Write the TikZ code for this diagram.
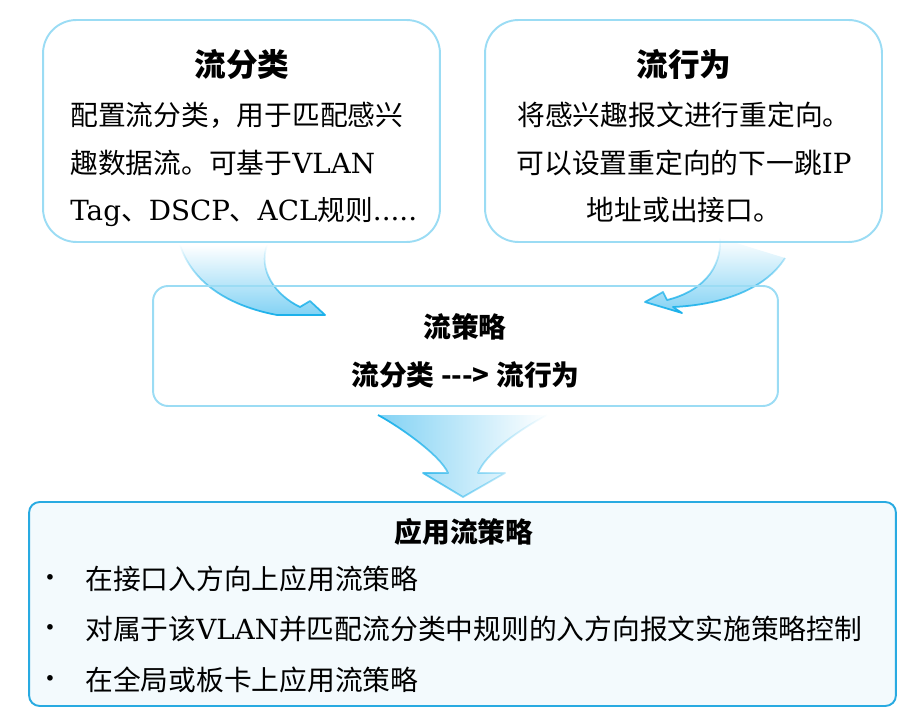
\documentclass[tikz,border=0pt]{standalone}
\usepackage{fontspec}
\setmainfont{DejaVu Serif}
\newfontfamily\cjk{Noto Sans CJK SC}
\usetikzlibrary{positioning,fadings}
\definecolor{pbLine}{RGB}{155,220,244}
\definecolor{pbDeep}{RGB}{40,170,225}
\definecolor{pbPale}{RGB}{243,250,253}
\definecolor{pbArrow}{RGB}{130,210,244}
\definecolor{pbEdge}{RGB}{25,176,234}
\newcommand{\latin}[1]{{\rmfamily #1}}

\begin{document}
\begin{tikzpicture}[x=0.02cm, y=-0.02cm,
  classbox/.style={draw=pbLine, line width=1.1pt, rounded corners=19pt, minimum width=7.94cm, minimum height=4.44cm},
  policybox/.style={draw=pbLine, line width=1.1pt, rounded corners=8.5pt, minimum width=12.5cm, minimum height=2.4cm},
  applybox/.style={draw=pbDeep, fill=pbPale, line width=1.1pt, rounded corners=6pt, minimum width=17.34cm, minimum height=4.08cm},
  bigtitle/.style={font=\cjk\bfseries\fontsize{18}{18}\selectfont, anchor=base, inner sep=0pt},
  heading/.style={font=\cjk\bfseries\fontsize{15.8}{16}\selectfont, anchor=base, inner sep=0pt},
  body/.style={font=\cjk\fontsize{15.8}{16}\selectfont, anchor=base, inner sep=0pt},
  bullet/.style={font=\rmfamily\fontsize{11}{11}\selectfont, anchor=base, inner sep=0pt},
  blockfill/.style={fill=pbArrow},
  blockedge/.style={draw=pbEdge, line width=1pt, line join=round}]
  \useasboundingbox (0,0) rectangle (913,719);

  % Curved arrows into the policy
  \fill[blockfill, path fading=north] (180,245) .. controls (195,290) and (240,308) .. (277,315) -- (325,315) -- (310,301) -- (300,307) .. controls (275,295) and (258,270) .. (267,245) -- cycle;
  \draw[blockedge, path fading=north] (267,245) .. controls (258,270) and (275,295) .. (300,307) -- (310,301) -- (325,315) -- (277,315) .. controls (240,308) and (195,290) .. (180,245);

  \fill[blockfill, path fading=north] (720,238) .. controls (722,270) and (700,292) .. (667,300) -- (663,292) -- (645,302) -- (682,313) -- (673,307) .. controls (720,305) and (765,290) .. (785,258) -- cycle;
  \draw[blockedge, path fading=north] (720,238) .. controls (722,270) and (700,292) .. (667,300) -- (663,292) -- (645,302) -- (682,313) -- (673,307) .. controls (720,305) and (765,290) .. (785,258);

  % Down arrow to the application
  \fill[blockfill, path fading=east] (378,415) .. controls (400,427) and (440,455) .. (448,473) -- (423,473) -- (463,497) -- (505,473) -- (478,473) .. controls (485,455) and (515,432) .. (547,415) -- cycle;
  \draw[blockedge, path fading=east] (378,415) .. controls (400,427) and (440,455) .. (448,473) -- (423,473) -- (463,497) -- (505,473) -- (478,473) .. controls (485,455) and (515,432) .. (547,415);

  % Flow classifier
  \node[classbox] (classifier) at (241.5,131) {};
  \node[bigtitle] (classTitle) at (242,77) {流分类};
  \node[body, anchor=base west] (classA) at (70,126) {配置流分类，用于匹配感兴};
  \node[body, anchor=base west] (classB) at (70,173.5) {趣数据流。可基于\latin{VLAN}};
  \node[body, anchor=base west] (classC) at (70,220.5) {\latin{Tag}、\latin{DSCP}、\latin{ACL}规则\latin{.....}};

  % Flow behavior
  \node[classbox] (behavior) at (683.5,131) {};
  \node[bigtitle] (behavTitle) at (684,77) {流行为};
  \node[body] (behavA) at (684,126) {将感兴趣报文进行重定向。};
  \node[body] (behavB) at (684,173.5) {可以设置重定向的下一跳\latin{IP}};
  \node[body] (behavC) at (684,220.5) {地址或出接口。};

  % Flow policy
  \node[policybox] (policy) at (465.5,346) {};
  \node[heading] (policyTitle) at (465,337.5) {流策略};
  \node[heading] (policyRule) at (465.5,385.5) {流分类 ---> 流行为};

  % Applying the policy
  \node[applybox] (apply) at (462.5,604) {};
  \node[heading] (applyTitle) at (464,542) {应用流策略};
  \node[bullet] (dotA) at (50,584) {•};
  \node[body, anchor=base west] (itemA) at (85,589) {在接口入方向上应用流策略};
  \node[bullet] (dotB) at (50,634) {•};
  \node[body, anchor=base west] (itemB) at (85,639) {对属于该\latin{VLAN}并匹配流分类中规则的入方向报文实施策略控制};
  \node[bullet] (dotC) at (50,685) {•};
  \node[body, anchor=base west] (itemC) at (85,690) {在全局或板卡上应用流策略};
\end{tikzpicture}
\end{document}
